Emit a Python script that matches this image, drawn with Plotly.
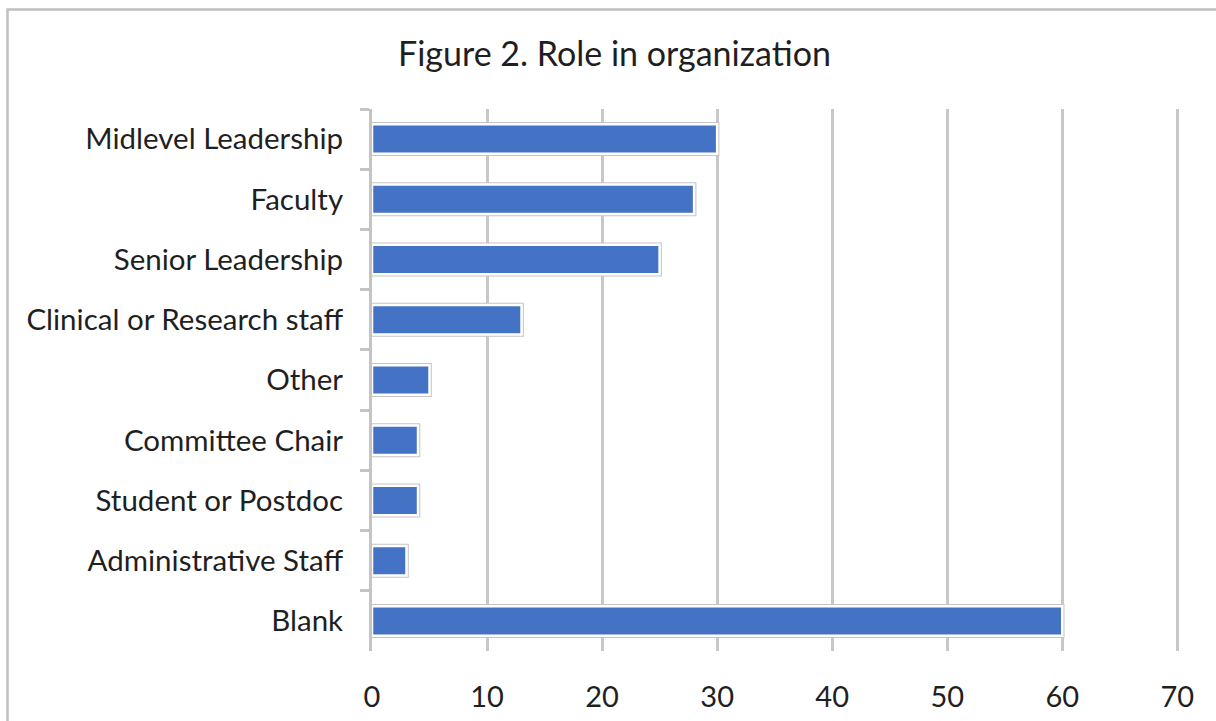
import plotly.graph_objects as go

categories = ["Midlevel Leadership", "Faculty", "Senior Leadership", "Clinical or Research staff",
              "Other", "Committee Chair", "Student or Postdoc", "Administrative Staff", "Blank"]
counts = [30, 28, 25, 13, 5, 4, 4, 3, 60]
x_ticks = [0, 10, 20, 30, 40, 50, 60, 70]

W, H = 1216, 721
L, T, B = 372, 109, 70
XMAX = 70.15
pw = round(805 * XMAX / 70)
R = W - L - pw
ph = H - T - B

FONT = "Lato"
TXT = "#1f1f1f"

fig = go.Figure()
fig.add_trace(go.Bar(y=categories, x=counts, orientation="h", width=0.49,
                     marker=dict(color="#4472C4", line=dict(color="#c4c4c4", width=4.5)),
                     hoverinfo="skip", showlegend=False))
fig.add_trace(go.Bar(y=categories, x=counts, orientation="h", width=0.49,
                     marker=dict(color="#4472C4", line=dict(color="#ffffff", width=2.5)),
                     showlegend=False))

def px_x(p):
    return (p - L) / pw

def px_y(p):
    return (H - B - p) / ph

fig.update_layout(
    width=W, height=H,
    margin=dict(l=L, r=R, t=T, b=B, autoexpand=False),
    paper_bgcolor="white", plot_bgcolor="white",
    barmode="overlay",
    title=dict(text="Figure 2. Role in organization", x=(397 + 832) / 2 / W, xanchor="center",
               y=1 - 54 / H, yanchor="middle",
               font=dict(family=FONT, size=34, color=TXT)),
    font=dict(family=FONT, color=TXT),
    xaxis=dict(range=[0, XMAX], tickvals=x_ticks, showgrid=True, gridcolor="#c8c8c8", gridwidth=2.5,
               zeroline=False, showline=False, ticks="", ticklabelstandoff=26,
               tickfont=dict(family=FONT, size=29, color=TXT), fixedrange=True),
    yaxis=dict(categoryorder="array", categoryarray=categories, autorange="reversed",
               showgrid=False, zeroline=False, showline=True, linecolor="#c4c4c4", linewidth=3,
               ticks="outside", tickson="boundaries", ticklen=9, tickwidth=3, tickcolor="#c4c4c4",
               ticklabelstandoff=20, tickfont=dict(family=FONT, size=29.5, color=TXT), fixedrange=True),
    shapes=[dict(type="rect", xref="paper", yref="paper",
                 x0=px_x(7.5), x1=px_x(1240), y0=px_y(760), y1=px_y(9.5),
                 line=dict(color="#c0c0c0", width=2.5), fillcolor="rgba(0,0,0,0)", layer="below")],
)

fig.write_html("out.html")
